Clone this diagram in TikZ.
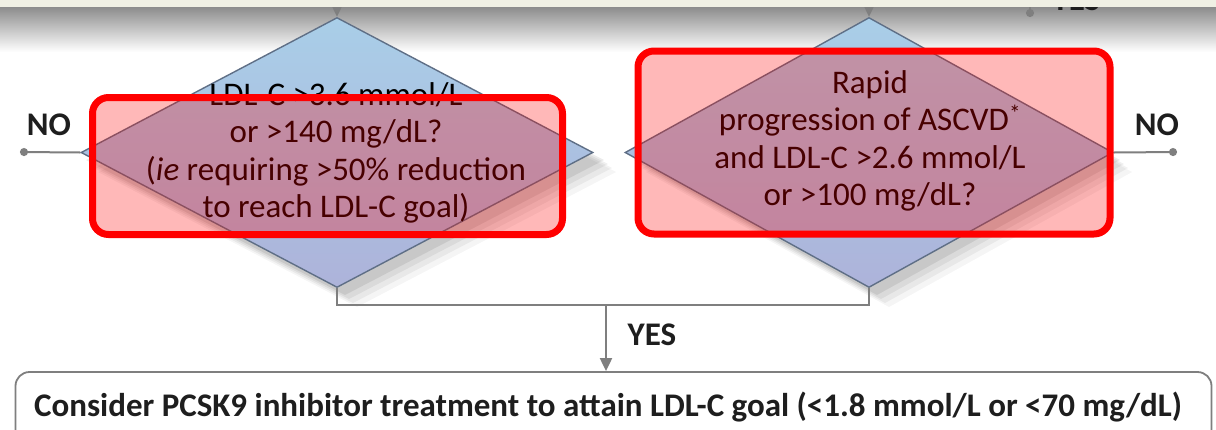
\documentclass[tikz,border=0pt]{standalone}
\usepackage{fontspec}
\setmainfont{Carlito}
\usetikzlibrary{shapes.geometric,arrows.meta}

\definecolor{bandcream}{HTML}{F0F0E4}
\definecolor{linegrey}{HTML}{7F7F7F}
\definecolor{decblue}{HTML}{A9CEE8}
\definecolor{declav}{HTML}{ADB3DA}
\definecolor{decedge}{HTML}{5F6F86}
\definecolor{txtdark}{HTML}{1E1E1E}

\tikzset{
  decision/.style={diamond, draw=decedge, line width=1.4pt, inner sep=0pt,
    minimum width=512pt, minimum height=270pt,
    top color=decblue, bottom color=declav},
  dectext/.style={align=center, text=black, font=\fontsize{33}{37.5}\selectfont},
  flow/.style={draw=linegrey, line width=2pt},
  arr/.style={flow, -{Triangle[length=13pt,width=12pt]}},
  dotend/.style={flow, -{Circle[length=8pt]}},
  lbl/.style={text=txtdark, font=\fontsize{33}{36}\selectfont\bfseries},
  hilite/.style={draw=red, line width=7pt, rounded corners=16pt,
    fill=red, fill opacity=0.28, draw opacity=1, inner sep=0pt},
  endbox/.style={draw=linegrey, line width=1.8pt, rounded corners=14pt, fill=white,
    minimum width=1196pt, minimum height=90pt, inner sep=0pt}
}

\begin{document}
\begin{tikzpicture}[x=1pt,y=-1pt]
\useasboundingbox (0,0) rectangle (1216,429);
\clip (0,0) rectangle (1216,429);
\fill[white] (0,0) rectangle (1216,429);

% shade under the top band
\shade[top color=gray!90, bottom color=white] (0,7) rectangle (1216,52);

% soft shadows behind the two diamonds
\foreach \dd/\op in {20/0.04,16/0.05,12/0.06,8/0.08} {
  \fill[black, opacity=\op] (337+\dd,18+\dd+4) -- (596+\dd,152+\dd) -- (337+\dd,287+\dd) -- (78+\dd,152+\dd) -- cycle;
  \fill[black, opacity=\op] (869+\dd,18+\dd+4) -- (1112+\dd,152+\dd) -- (869+\dd,287+\dd) -- (626+\dd,152+\dd) -- cycle;
}

% the two questions
\node[decision] (qlow) at (337,152.5) {};
\node[decision, minimum width=488pt] (qfast) at (869,152.5) {};

\node[dectext] (qlowtxt) at (336,153)
  {LDL-C >3.6 mmol/L\\ or >140 mg/dL?\\ (\textit{ie} requiring >50\% reduction\\ to reach LDL-C goal)};
\node[dectext] (qfasttxt) at (870,141)
  {Rapid\\ progression of ASCVD\textsuperscript{*}\\ and LDL-C >2.6 mmol/L\\ or >100 mg/dL?};

% incoming arrows from the step above
\coordinate (inlow) at (337,-20);
\coordinate (infast) at (869,-20);
\draw[arr] (inlow) -- (qlow.north);
\draw[arr] (infast) -- (qfast.north);
\coordinate (yestop) at (1030,-20);
\coordinate (yesdot) at (1030,17);
\draw[dotend] (yestop) -- (yesdot);
\node[lbl] (yesabove) at (1076,0) {YES};

% NO exits
\coordinate (nolow) at (20,152);
\coordinate (nofast) at (1177,152);
\draw[dotend] (qlow.west) -- (nolow);
\draw[dotend] (qfast.east) -- (nofast);
\node[lbl] (nolowlbl) at (49,125) {NO};
\node[lbl] (nofastlbl) at (1157,125) {NO};

% YES branch joining below
\coordinate (joinl) at (qlow.south |- 0,305);
\coordinate (joinr) at (qfast.south |- 0,305);
\coordinate (joinm) at (606,305);
\draw[flow] (qlow.south) -- (joinl) -- (joinr) -- (qfast.south);

\node[endbox] (treat) at (613.5,417) {};
\node[text=txtdark, font=\fontsize{33}{36}\selectfont\bfseries] (treattxt) at (608,407)
  {Consider PCSK9 inhibitor treatment to attain LDL-C goal (<1.8 mmol/L or <70 mg/dL)};
\draw[arr] (joinm) -- (treat.north -| joinm);
\node[lbl] (yeslbl) at (652,335) {YES};

% cream band at the very top
\fill[bandcream] (0,0) rectangle (1216,7);

% highlight frames
\node[hilite, minimum width=470pt, minimum height=137pt] (marklow) at (327.5,166) {};
\node[hilite, minimum width=472pt, minimum height=183pt] (markfast) at (874,142.5) {};
\end{tikzpicture}
\end{document}
